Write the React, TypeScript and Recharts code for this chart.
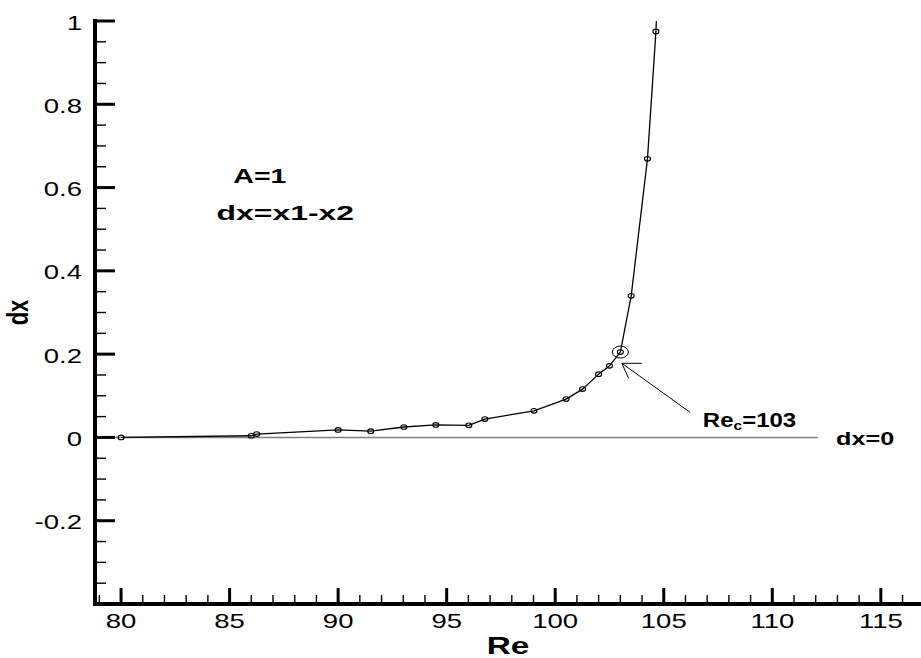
import React from 'react';
import { LineChart, Line, XAxis, YAxis, ReferenceLine, ReferenceDot } from 'recharts';

// ---- data ----
const reValues = [80, 86.0, 86.25, 90.0, 91.5, 93.03, 94.5, 96.02, 96.76, 99.02, 100.5, 101.26, 102.0, 102.5, 103.0, 103.5, 104.25, 104.64, 104.66];
const dxValues = [0, 0.004, 0.008, 0.018, 0.015, 0.025, 0.03, 0.029, 0.044, 0.064, 0.092, 0.116, 0.152, 0.172, 0.205, 0.34, 0.669, 0.975, 1.0];
const markerShown = [true, true, true, true, true, true, true, true, true, true, true, true, true, true, true, true, true, true, false];

const xTicks = [79, 80, 81, 82, 83, 84, 85, 86, 87, 88, 89, 90, 91, 92, 93, 94, 95, 96, 97, 98, 99, 100, 101, 102, 103, 104, 105, 106, 107, 108, 109, 110, 111, 112, 113, 114, 115, 116];
const xMajorTicks = [80, 85, 90, 95, 100, 105, 110, 115];
const yTicks = [-0.35, -0.3, -0.25, -0.2, -0.15, -0.1, -0.05, 0, 0.05, 0.1, 0.15, 0.2, 0.25, 0.3, 0.35, 0.4, 0.45, 0.5, 0.55, 0.6, 0.65, 0.7, 0.75, 0.8, 0.85, 0.9, 0.95, 1];
const yMajorTicks = [-0.2, 0, 0.2, 0.4, 0.6, 0.8, 1];

const xDomain = [78.8, 116.85];
const yDomain = [-0.4, 1];

// critical point and annotations
const criticalRe = 103;
const criticalDx = 0.205;
const zeroLineEnd = 112.1;
const arrowTail = { x: 106.22, y: 0.06 };
const arrowTip = { x: 103.07, y: 0.178 };
const arrowHeadA = { x: 103.99, y: 0.178 };
const arrowHeadB = { x: 103.38, y: 0.142 };

const annotA = { x: 85.17, y: 0.61, text: 'A=1' };
const annotDef = { x: 84.4, y: 0.522, text: 'dx=x1-x2' };
const annotRec = { x: 106.8, y: 0.0254, main: 'Re', sub: 'c', rest: '=103' };
const annotZero = { x: 112.94, y: -0.0178, text: 'dx=0' };

const data = reValues.map((re, i) => ({ re, dx: dxValues[i] }));

// ---- layout ----
const W = 921;
const H = 658;
const MARGIN = { top: 21, right: 0, bottom: 53, left: 94 };
const FONT = 'Liberation Sans, Arial, Helvetica, sans-serif';
const SX = 1.31;

function StretchText({ x, y, sx, size, bold, anchor, children }: any) {
  return (
    <text
      transform={`translate(${x},${y}) scale(${sx},1)`}
      x={0}
      y={0}
      textAnchor={anchor || 'start'}
      fontSize={size}
      fontWeight={bold ? 'bold' : 'normal'}
      fontFamily={FONT}
      fill="#000"
    >
      {children}
    </text>
  );
}

function XTick(props: any) {
  const { x, y, payload } = props;
  const v = payload.value;
  const major = xMajorTicks.includes(v);
  return (
    <g>
      <line x1={x} x2={x} y1={y} y2={y - (major ? 16 : 9)} stroke="#000" strokeWidth={major ? 3 : 1.4} />
      {major && (
        <StretchText x={x} y={y + 24} sx={SX} size={21} anchor="middle">
          {String(v)}
        </StretchText>
      )}
    </g>
  );
}

function YTick(props: any) {
  const { x, y, payload } = props;
  const v = payload.value;
  const major = yMajorTicks.some((m) => Math.abs(m - v) < 1e-9);
  return (
    <g>
      <line x1={x} x2={x + (major ? 20 : 11)} y1={y} y2={y} stroke="#000" strokeWidth={major ? 3 : 1.4} />
      {major && (
        <StretchText x={x - 13} y={y + 8.5} sx={SX} size={21} anchor="end">
          {String(v)}
        </StretchText>
      )}
    </g>
  );
}

function renderDot(props: any) {
  const { cx, cy, index } = props;
  if (!markerShown[index]) return <g key={`d${index}`} />;
  return <ellipse key={`d${index}`} cx={cx} cy={cy} rx={3} ry={2.3} fill="none" stroke="#000" strokeWidth={1.1} />;
}

export default function App() {
  const plotLeft = MARGIN.left + 1;
  const plotRight = W - MARGIN.right;
  const plotTop = MARGIN.top;
  const plotBottom = H - MARGIN.bottom - 1;
  return (
    <div style={{ position: 'absolute', left: 0, top: 0, width: W, height: H, background: '#fff' }}>
      <LineChart width={W} height={H} data={data} margin={MARGIN}>
        <XAxis
          type="number"
          dataKey="re"
          domain={xDomain}
          allowDataOverflow
          ticks={xTicks}
          interval={0}
          height={1}
          tickSize={0}
          tickMargin={0}
          tickLine={false}
          axisLine={{ stroke: '#000', strokeWidth: 4, strokeLinecap: 'square' }}
          tick={<XTick />}
        />
        <YAxis
          type="number"
          domain={yDomain}
          allowDataOverflow
          ticks={yTicks}
          interval={0}
          width={1}
          tickSize={0}
          tickMargin={0}
          tickLine={false}
          axisLine={{ stroke: '#000', strokeWidth: 4, strokeLinecap: 'square' }}
          tick={<YTick />}
        />
        <ReferenceLine
          segment={[{ x: xDomain[0], y: 0 }, { x: zeroLineEnd, y: 0 }]}
          stroke="#808080"
          strokeWidth={1.5}
        />
        <ReferenceLine segment={[arrowTail, arrowTip]} stroke="#000" strokeWidth={1} />
        <ReferenceLine segment={[arrowTip, arrowHeadA]} stroke="#000" strokeWidth={1} />
        <ReferenceLine segment={[arrowTip, arrowHeadB]} stroke="#000" strokeWidth={1} />
        <ReferenceDot
          x={criticalRe}
          y={criticalDx}
          r={8}
          shape={(p: any) => <ellipse cx={p.cx} cy={p.cy} rx={8} ry={6} fill="none" stroke="#000" strokeWidth={1} />}
        />
        <ReferenceDot
          x={annotA.x}
          y={annotA.y}
          r={1}
          shape={(p: any) => (
            <StretchText x={p.cx} y={p.cy} sx={1.36} size={21} bold>
              {annotA.text}
            </StretchText>
          )}
        />
        <ReferenceDot
          x={annotDef.x}
          y={annotDef.y}
          r={1}
          shape={(p: any) => (
            <StretchText x={p.cx} y={p.cy} sx={1.52} size={21} bold>
              {annotDef.text}
            </StretchText>
          )}
        />
        <ReferenceDot
          x={annotRec.x}
          y={annotRec.y}
          r={1}
          shape={(p: any) => (
            <text transform={`translate(${p.cx},${p.cy}) scale(1.2,1)`} fontFamily={FONT} fontWeight="bold" fontSize={20} fill="#000">
              <tspan>{annotRec.main}</tspan>
              <tspan fontSize={13} dy={3}>{annotRec.sub}</tspan>
              <tspan dy={-3}>{annotRec.rest}</tspan>
            </text>
          )}
        />
        <ReferenceDot
          x={annotZero.x}
          y={annotZero.y}
          r={1}
          ifOverflow="visible"
          shape={(p: any) => (
            <StretchText x={p.cx} y={p.cy} sx={1.4} size={18} bold>
              {annotZero.text}
            </StretchText>
          )}
        />
        <Line
          type="linear"
          dataKey="dx"
          stroke="#000"
          strokeWidth={1.3}
          dot={renderDot}
          activeDot={false}
          isAnimationActive={false}
        />
      </LineChart>
      <svg width={W} height={H} style={{ position: 'absolute', left: 0, top: 0, pointerEvents: 'none' }}>
        <StretchText x={(plotLeft + plotRight) / 2} y={654} sx={1.45} size={23} bold anchor="middle">
          Re
        </StretchText>
        <g transform={`translate(28,${(plotTop + plotBottom) / 2}) scale(1.3,1) rotate(-90)`}>
          <text x={0} y={0} textAnchor="middle" fontSize={22} fontWeight="bold" fontFamily={FONT} fill="#000">
            dx
          </text>
        </g>
      </svg>
    </div>
  );
}
